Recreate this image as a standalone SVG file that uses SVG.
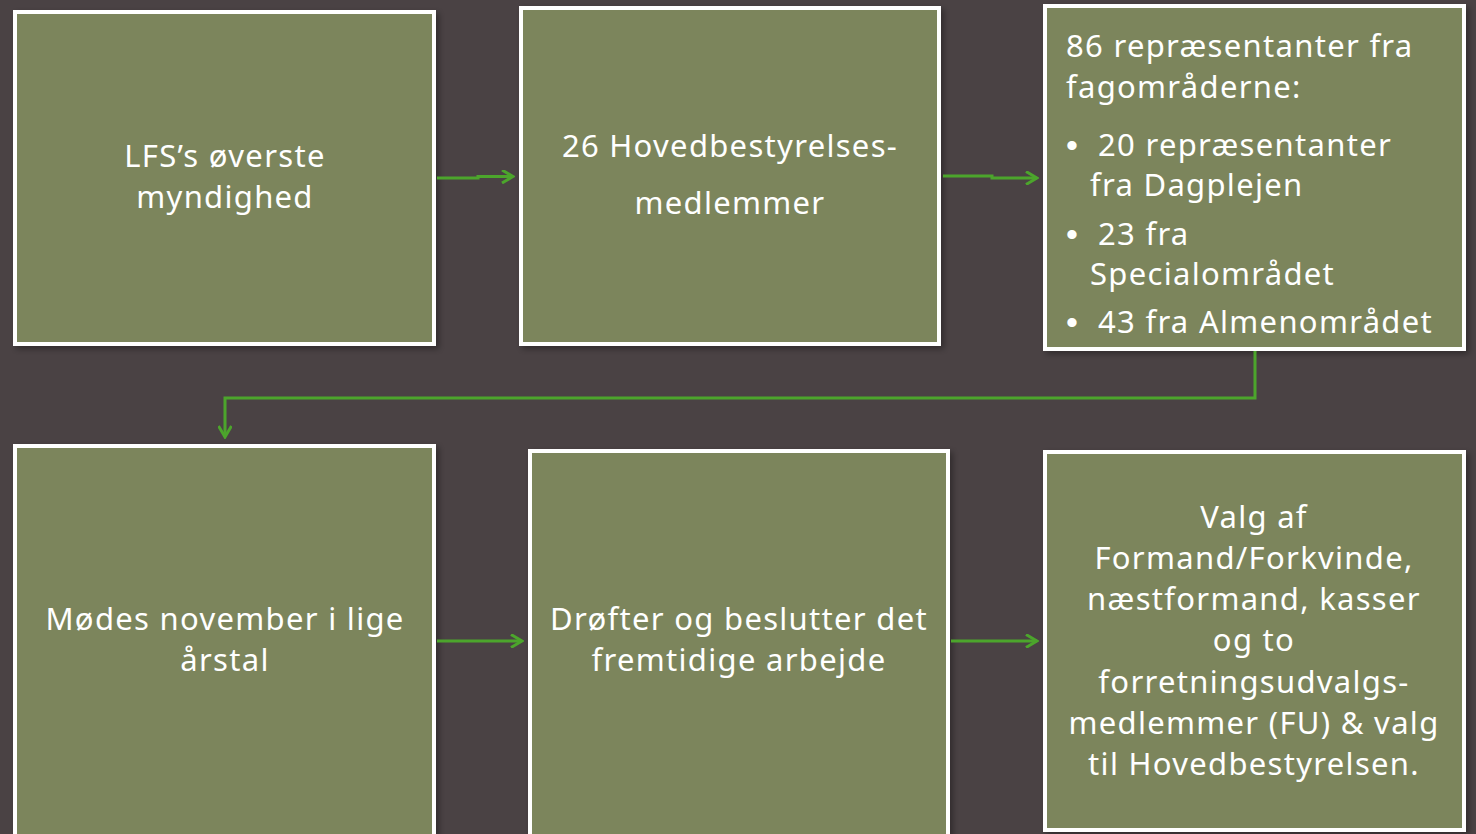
<svg xmlns="http://www.w3.org/2000/svg" width="1476" height="834" viewBox="0 0 1476 834">
<style>
.box{fill:#7b855b;stroke:#ffffff;stroke-width:4}
.t{font-family:"Noto Sans","Liberation Sans",sans-serif;font-size:31px;letter-spacing:1.3px;fill:#ffffff}
.b{font-family:"Liberation Sans",sans-serif;font-size:34px;fill:#ffffff}
.c{text-anchor:middle}
.con{fill:none;stroke:#4ca52c;stroke-width:3}
</style>
<defs>
<marker id="ah" markerWidth="14" markerHeight="14" refX="12" refY="7" orient="auto" markerUnits="userSpaceOnUse">
<path d="M1,0.5 L12,7 L1,13.5" fill="none" stroke="#4ca52c" stroke-width="3"/>
</marker>
<filter id="sh" x="-5%" y="-5%" width="115%" height="115%">
<feDropShadow dx="3" dy="3" stdDeviation="3" flood-color="#000" flood-opacity="0.35"/>
</filter>
</defs>
<rect width="1476" height="834" fill="#4a4244"/>
<g id="n1"><rect class="box" x="15" y="12" width="419" height="332" filter="url(#sh)"/>
<text class="t c" x="225" y="167">LFS’s øverste</text><text class="t c" x="225" y="208">myndighed</text></g>
<g id="n2"><rect class="box" x="521" y="8" width="418" height="336" filter="url(#sh)"/>
<text class="t c" x="730" y="157">26 Hovedbestyrelses-</text><text class="t c" x="730" y="214">medlemmer</text></g>
<g id="n3"><rect class="box" x="1045" y="6" width="419" height="343" filter="url(#sh)"/>
<text class="t" x="1066" y="57">86 repræsentanter fra</text>
<text class="t" x="1066" y="98">fagområderne:</text>
<text class="b" x="1066" y="157">•</text><text class="t" x="1098" y="156">20 repræsentanter</text>
<text class="t" x="1090" y="196">fra Dagplejen</text>
<text class="b" x="1066" y="246">•</text><text class="t" x="1098" y="245">23 fra</text>
<text class="t" x="1090" y="285">Specialområdet</text>
<text class="b" x="1066" y="334">•</text><text class="t" x="1098" y="333">43 fra Almenområdet</text></g>
<g id="n4"><rect class="box" x="15" y="446" width="419" height="400" filter="url(#sh)"/>
<text class="t c" x="225" y="630">Mødes november i lige</text><text class="t c" x="225" y="671">årstal</text></g>
<g id="n5"><rect class="box" x="530" y="451" width="418" height="395" filter="url(#sh)"/>
<text class="t c" x="739" y="630">Drøfter og beslutter det</text><text class="t c" x="739" y="671">fremtidige arbejde</text></g>
<g id="n6"><rect class="box" x="1045" y="452" width="419" height="378" filter="url(#sh)"/>
<text class="t c" x="1254" y="528">Valg af</text>
<text class="t c" x="1254" y="569">Formand/Forkvinde,</text>
<text class="t c" x="1254" y="610">næstformand, kasser</text>
<text class="t c" x="1254" y="651">og to</text>
<text class="t c" x="1254" y="693">forretningsudvalgs-</text>
<text class="t c" x="1254" y="734">medlemmer (FU) &amp; valg</text>
<text class="t c" x="1254" y="775">til Hovedbestyrelsen.</text></g>
<g id="connectors">
<path class="con" d="M437,178 L478,178 L478,176.5 L513,176.5" marker-end="url(#ah)"/>
<path class="con" d="M943,176 L992,176 L992,178 L1037,178" marker-end="url(#ah)"/>
<path class="con" d="M1255,351 L1255,398 L225,398 L225,437" marker-end="url(#ah)"/>
<path class="con" d="M437,641 L522,641" marker-end="url(#ah)"/>
<path class="con" d="M951,641 L1037,641" marker-end="url(#ah)"/>
</g>
</svg>
